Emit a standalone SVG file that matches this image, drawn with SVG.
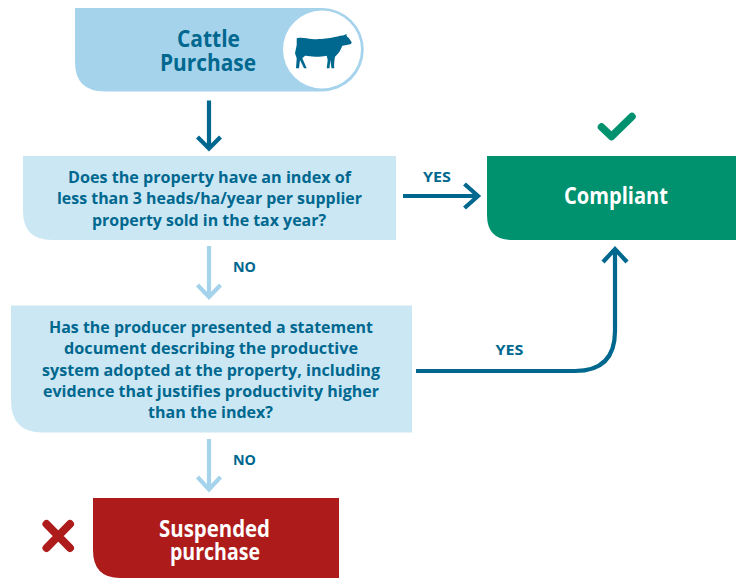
<svg xmlns="http://www.w3.org/2000/svg" width="736" height="578" viewBox="0 0 736 578">
<style>
text{font-family:"Open Sans","Noto Sans","Liberation Sans",sans-serif;font-weight:700;text-anchor:middle}
.q{font-size:16.500px;fill:#00688f}
.l{font-size:14.500px;fill:#00688f}
.t{font-size:22.500px;fill:#00688f}
.w{font-size:22.500px;fill:#fff}
.c{fill:none;stroke-width:4.200}
.d{stroke:#00688f}
.p{stroke:#a5d3eb}
</style>
<g id="connectors">
<path class="c d" d="M209 100.500V147M197.500 137L209 148.500L220.500 137"/>
<path class="c d" d="M403 196H477M464.500 184L478 196L464.500 208"/>
<path class="c d" d="M416 371H575Q615 371 615 331V250M603 262L615 249L627 262"/>
<path class="c p" d="M209 246V296M197.500 285L209 297L220.500 285"/>
<path class="c p" d="M209 439V489M197.500 477L209 489.500L220.500 477"/>
</g>
<g id="cattle-purchase">
<path d="M75 8H322A41.500 41.500 0 0 1 322 91.500H105Q75 91.500 75 62Z" fill="#a5d3eb"/>
<circle cx="322" cy="49.500" r="39" fill="#fff"/>
<path fill="#00688f" d="M296.700 38.300C302 37 307 38.500 311.700 39C317 39.500 323 39 328 38.300C333 37.500 337 36.500 340 35.700L343 35.500L346.700 34L346.500 36L349 38.300L351.700 42.300L351 44L346.700 45L342.300 45.700C341 49 340 51.500 338.300 53.300L335 56.700C334.500 60 333.800 64 334.300 68.300H331.500L330.300 60L329.500 68.300H326.700L327.700 60L326.700 55.700C322 56.500 318 57 315 56.700C311 56.500 308 55.500 305 55.700L302.300 58.300L306.700 68.300H304L300 60L299 68.300H296L296.700 58.300L295 53.300L296.700 45Z"/>
<text class="t" x="208.500" y="47" textLength="63" lengthAdjust="spacingAndGlyphs">Cattle</text>
<text class="t" x="208" y="71" textLength="96" lengthAdjust="spacingAndGlyphs">Purchase</text>
</g>
<g id="check-index">
<path d="M23 156H396V240H52Q23 240 23 211Z" fill="#cbe7f4"/>
<text class="q" x="209.500" y="183" textLength="283" lengthAdjust="spacingAndGlyphs">Does the property have an index of</text>
<text class="q" x="209.500" y="204" textLength="305" lengthAdjust="spacingAndGlyphs">less than 3 heads/ha/year per supplier</text>
<text class="q" x="209" y="225.500" textLength="234" lengthAdjust="spacingAndGlyphs">property sold in the tax year?</text>
</g>
<g id="check-statement">
<path d="M11 305.500H412V432.500H42Q11 432.500 11 400Z" fill="#cbe7f4"/>
<text class="q" x="211" y="333" textLength="324" lengthAdjust="spacingAndGlyphs">Has the producer presented a statement</text>
<text class="q" x="211" y="354" textLength="294" lengthAdjust="spacingAndGlyphs">document describing the productive</text>
<text class="q" x="211" y="375.500" textLength="338" lengthAdjust="spacingAndGlyphs">system adopted at the property, including</text>
<text class="q" x="211" y="397" textLength="336" lengthAdjust="spacingAndGlyphs">evidence that justifies productivity higher</text>
<text class="q" x="210.500" y="418" textLength="125" lengthAdjust="spacingAndGlyphs">than the index?</text>
</g>
<g id="compliant">
<path d="M487 156H736V240H512Q487 240 487 215Z" fill="#00916e"/>
<text class="w" x="616" y="204" textLength="104" lengthAdjust="spacingAndGlyphs">Compliant</text>
<path d="M601.500 127L611.500 136.500L632 116.500" fill="none" stroke="#00916e" stroke-width="7.500" stroke-linecap="round" stroke-linejoin="round"/>
</g>
<g id="suspended">
<path d="M93 498H339V578H120Q93 578 93 550Z" fill="#ae1b1b"/>
<text class="w" x="214.500" y="537" textLength="111" lengthAdjust="spacingAndGlyphs">Suspended</text>
<text class="w" x="215" y="560" textLength="90" lengthAdjust="spacingAndGlyphs">purchase</text>
<path d="M46.500 524L70 548M70 524L46.500 548" fill="none" stroke="#ae1b1b" stroke-width="8" stroke-linecap="round"/>
</g>
<g id="labels">
<text class="l" x="437" y="182" textLength="28" lengthAdjust="spacingAndGlyphs">YES</text>
<text class="l" x="244.500" y="272" textLength="23" lengthAdjust="spacingAndGlyphs">NO</text>
<text class="l" x="509.500" y="355" textLength="28" lengthAdjust="spacingAndGlyphs">YES</text>
<text class="l" x="244.500" y="465" textLength="23" lengthAdjust="spacingAndGlyphs">NO</text>
</g>
</svg>
